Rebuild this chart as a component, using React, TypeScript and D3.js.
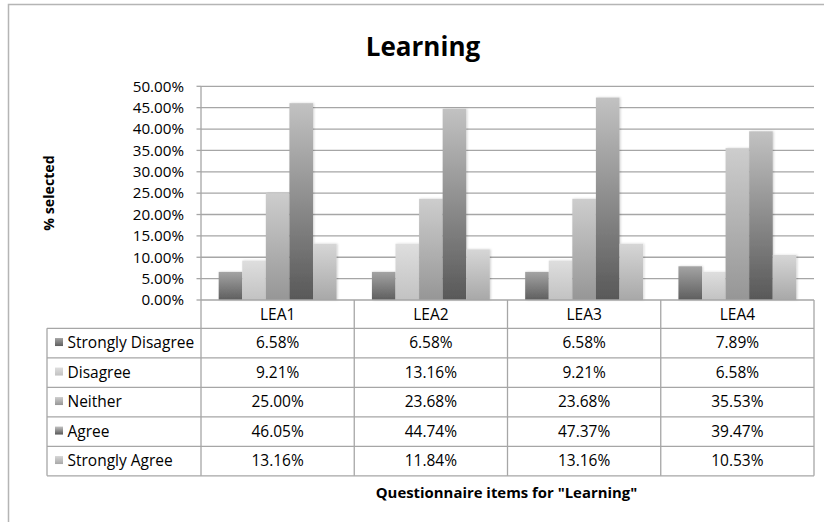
import React from "react";
import * as d3 from "d3";

const categories = ["LEA1", "LEA2", "LEA3", "LEA4"];
const seriesNames = ["Strongly Disagree", "Disagree", "Neither", "Agree", "Strongly Agree"];
const stronglyDisagree = [6.58, 6.58, 6.58, 7.89];
const disagree = [9.21, 13.16, 9.21, 6.58];
const neither = [25.0, 23.68, 23.68, 35.53];
const agree = [46.05, 44.74, 47.37, 39.47];
const stronglyAgree = [13.16, 11.84, 13.16, 10.53];
const yTicks = [0, 5, 10, 15, 20, 25, 30, 35, 40, 45, 50];

const seriesValues = [stronglyDisagree, disagree, neither, agree, stronglyAgree];
// gradient stops (top, bottom) per series
const gradients: [string, string][] = [
  ["#a4a4a4", "#5e5e5e"],
  ["#dedede", "#c2c2c2"],
  ["#cdcdcd", "#969696"],
  ["#c2c2c2", "#585858"],
  ["#d6d6d6", "#a8a8a8"],
];

const W = 824;
const H = 522;
const FONT = "'Open Sans', sans-serif";

export default function App() {
  const plot = { left: 201, right: 814, top: 86.3, bottom: 300 };

  const x = d3.scaleBand<string>().domain(categories).range([plot.left, plot.right]).paddingInner(0);
  const xs = d3
    .scaleBand<string>()
    .domain(seriesNames)
    .range([0, x.bandwidth()])
    .paddingInner(0)
    .paddingOuter(0.75);
  const y = d3.scaleLinear().domain([0, 50]).range([plot.bottom, plot.top]);
  const fmt = (v: number) => `${v.toFixed(2)}%`;

  const headerH = 28.3;
  const rowH = 29.5;
  const tableLeft = 47;
  const tableTop = plot.bottom;
  const rowsTop = tableTop + headerH;
  const rowsBottom = rowsTop + rowH * seriesNames.length;
  const colEdges = [...categories.map((c) => x(c)!), plot.right];
  const grid = "#a6a6a6";
  const fs = 15.5;

  return (
    <svg
      width={W}
      height={H}
      style={{ position: "absolute", left: 0, top: 0, fontFamily: FONT }}
    >
      <defs>
        {gradients.map((g, i) => (
          <linearGradient key={i} id={`grad-${i}`} x1="0" y1="0" x2="0" y2="1">
            <stop offset="0%" stopColor={g[0]} />
            <stop offset="100%" stopColor={g[1]} />
          </linearGradient>
        ))}
        <filter id="shadow" x="-20%" y="-5%" width="140%" height="110%">
          <feDropShadow dx="1" dy="0" stdDeviation="1" floodColor="#000" floodOpacity="0.18" />
        </filter>
      </defs>
      <rect x={0} y={0} width={W} height={H} fill="#fff" />
      <path d="M8.5,600 V4.5 H900" fill="none" stroke="#b5b5b5" strokeWidth={1.5} />

      <text x={423} y={56} textAnchor="middle" fontSize={26} fontWeight="bold" fill="#000">
        Learning
      </text>

      {/* gridlines */}
      {yTicks.map((t) => (
        <g key={t}>
          {t > 0 && (
            <line x1={plot.left} x2={plot.right} y1={y(t)} y2={y(t)} stroke={grid} strokeWidth={1.3} />
          )}
          <line x1={plot.left - 4.5} x2={plot.left} y1={y(t)} y2={y(t)} stroke={grid} strokeWidth={1.3} />
          <text x={184} y={y(t)} dy="0.35em" textAnchor="end" fontSize={15.2} fill="#000">
            {fmt(t)}
          </text>
        </g>
      ))}
      <line x1={plot.left} x2={plot.left} y1={plot.top} y2={rowsBottom} stroke={grid} strokeWidth={1.3} />

      {/* bars */}
      {categories.map((c, ci) => (
        <g key={c} transform={`translate(${x(c)},0)`}>
          {seriesNames.map((s, si) => (
            <rect
              key={s}
              x={xs(s)}
              y={y(seriesValues[si][ci])}
              width={xs.bandwidth()}
              height={plot.bottom - y(seriesValues[si][ci])}
              fill={`url(#grad-${si})`}
              filter="url(#shadow)"
            />
          ))}
        </g>
      ))}

      {/* data table */}
      <line x1={plot.left} x2={plot.right} y1={tableTop} y2={tableTop} stroke={grid} strokeWidth={1.3} />
      {seriesNames.map((_, i) => (
        <line
          key={i}
          x1={tableLeft}
          x2={plot.right}
          y1={rowsTop + rowH * i}
          y2={rowsTop + rowH * i}
          stroke={grid}
          strokeWidth={1.3}
        />
      ))}
      <line x1={tableLeft} x2={plot.right} y1={rowsBottom} y2={rowsBottom} stroke={grid} strokeWidth={1.3} />
      <line x1={tableLeft} x2={tableLeft} y1={rowsTop} y2={rowsBottom} stroke={grid} strokeWidth={1.3} />
      {colEdges.slice(1).map((cx, i) => (
        <line key={i} x1={cx} x2={cx} y1={tableTop} y2={rowsBottom} stroke={grid} strokeWidth={1.3} />
      ))}
      {categories.map((c) => (
        <text
          key={c}
          x={x(c)! + x.bandwidth() / 2}
          y={tableTop + headerH / 2}
          dy="0.35em"
          textAnchor="middle"
          fontSize={fs}
          fill="#000"
        >
          {c}
        </text>
      ))}
      {seriesNames.map((s, si) => {
        const cy = rowsTop + rowH * si + rowH / 2;
        return (
          <g key={s}>
            <rect x={55} y={cy - 5} width={8} height={8} fill={`url(#grad-${si})`} />
            <text x={67.5} y={cy} dy="0.35em" fontSize={fs} fill="#000">
              {s}
            </text>
            {categories.map((c, ci) => (
              <text
                key={c}
                x={x(c)! + x.bandwidth() / 2}
                y={cy}
                dy="0.35em"
                textAnchor="middle"
                fontSize={fs}
                fill="#000"
              >
                {fmt(seriesValues[si][ci])}
              </text>
            ))}
          </g>
        );
      })}

      <text x={506.5} y={498} textAnchor="middle" fontSize={14.9} fontWeight="bold" fill="#000">
        Questionnaire items for "Learning"
      </text>
      <text
        transform={`translate(54,193) rotate(-90)`}
        textAnchor="middle"
        fontSize={14.2}
        fontWeight="bold"
        fill="#000"
      >
        % selected
      </text>
    </svg>
  );
}
